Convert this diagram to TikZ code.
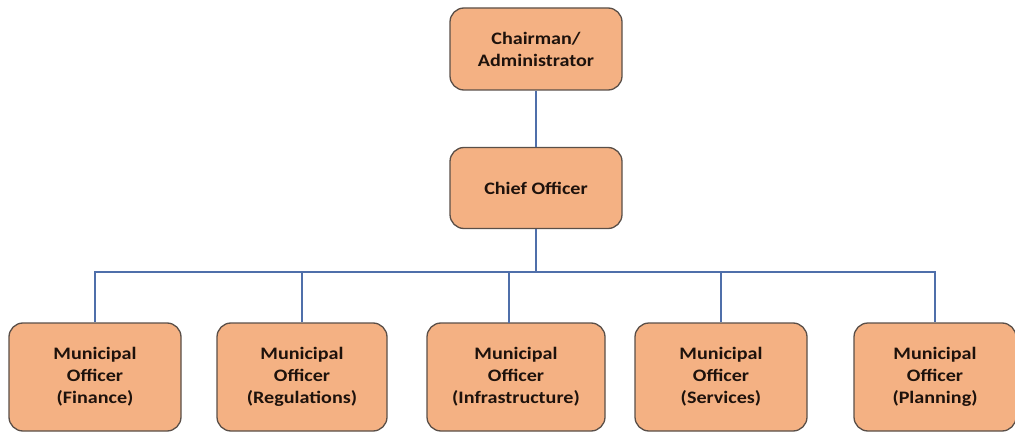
\documentclass[tikz,border=0pt]{standalone}
\usepackage{fontspec}
\setmainfont{Carlito}[FakeStretch=1.15]
\definecolor{boxfill}{HTML}{F4B183}
\definecolor{boxdraw}{HTML}{5A4F48}
\definecolor{linkblue}{HTML}{4F6FAA}
\definecolor{txt}{HTML}{1E120C}
\begin{document}
\begin{tikzpicture}[x=1pt,y=-1pt,
  orgbox/.style={draw=boxdraw, line width=1.3pt, fill=boxfill, rounded corners=14pt,
    minimum height=#1, align=center, inner sep=0pt, text=txt,
    font=\fontsize{17.5}{22}\selectfont\bfseries},
  link/.style={draw=linkblue, line width=1.6pt}]
\useasboundingbox (0,0) rectangle (1015,433);
\node[orgbox=82pt, minimum width=172pt] (chair) at (536,49) {Chairman/\\Administrator};
\node[orgbox=81pt, minimum width=172pt] (chief) at (536,188) {Chief Officer};
\node[orgbox=108pt, minimum width=172pt] (fin) at (95,377) {Municipal\\Officer\\(Finance)};
\node[orgbox=108pt, minimum width=170pt] (reg) at (302,377) {Municipal\\Officer\\(Regulations)};
\node[orgbox=108pt, minimum width=178pt] (inf) at (516,377) {Municipal\\Officer\\(Infrastructure)};
\node[orgbox=108pt, minimum width=172pt] (ser) at (721,377) {Municipal\\Officer\\(Services)};
\node[orgbox=108pt, minimum width=162pt] (pla) at (935,377) {Municipal\\Officer\\(Planning)};
\coordinate (bus) at (536,272);
\draw[link] (chair.south) -- (chief.north);
\draw[link] (chief.south) -- (bus);
\draw[link] (fin.north) |- (bus) -| (pla.north);
\draw[link] (reg.north |- bus) -- (reg.north);
\draw[link] (509,272) -- (509,323);
\draw[link] (ser.north |- bus) -- (ser.north);
\end{tikzpicture}
\end{document}
